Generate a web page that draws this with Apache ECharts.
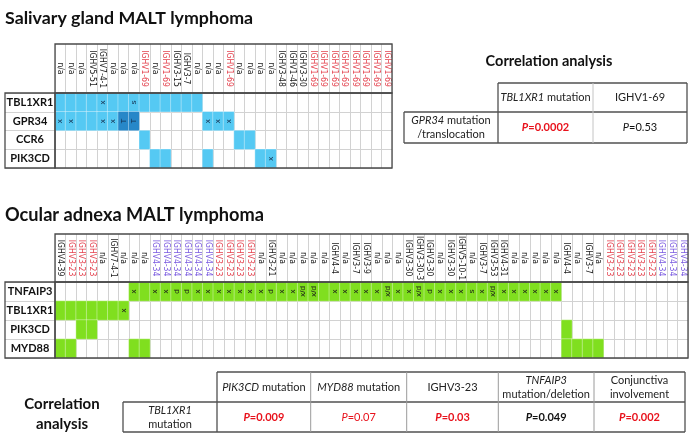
<!DOCTYPE html>
<html>
<head>
<meta charset="utf-8">
<script src="https://cdn.jsdelivr.net/npm/echarts@6/dist/echarts.min.js"></script>
<style>
html,body{margin:0;padding:0;background:#fff;}
#chart{width:693px;height:438px;}
</style>
</head>
<body>
<div id="chart"></div>
<script>
// ---------------- DATA ----------------
const topGenes = ['TBL1XR1', 'GPR34', 'CCR6', 'PIK3CD'];
const topIGHV = ['n/a','n/a','n/a','IGHV5-51','IGHV7-4-1','n/a','n/a','n/a','IGHV1-69','n/a',
  'IGHV1-69','IGHV3-15','IGHV3-7','n/a','n/a','n/a','IGHV1-69','n/a','n/a','n/a',
  'n/a','IGHV3-48','IGHV1-46','IGHV3-30','IGHV1-69','IGHV1-69','IGHV1-69','IGHV1-69','IGHV1-69','IGHV1-69',
  'IGHV1-69','IGHV1-69'];
// '' = wild type, '+' = altered, other = altered with annotation
const topTBL1XR1 = ['+','+','+','+','x','+','+','s','+','+', '+','+','+','+','','','','','','', '','','','','','','','','','', '',''];
const topGPR34   = ['x','x','+','+','x','x','T','T','','', '','','','','x','x','x','','','', '','','','','','','','','','', '',''];
const topCCR6    = ['','','','','','','','','+','', '','','','','','','','+','+','', '','','','','','','','','','', '',''];
const topPIK3CD  = ['','','','','','','','','','+', '+','','','','+','','','','','+', 'x','','','','','','','','','', '',''];

const botGenes = ['TNFAIP3', 'TBL1XR1', 'PIK3CD', 'MYD88'];
const botIGHV = ['IGHV4-39','IGHV3-23','IGHV3-23','IGHV3-23','n/a','IGHV7-4-1','n/a','n/a','n/a','IGHV4-34',
  'IGHV4-34','IGHV4-34','IGHV4-34','IGHV4-34','IGHV4-34','IGHV3-23','IGHV3-23','IGHV3-23','IGHV3-23','n/a',
  'IGHV3-21','n/a','n/a','n/a','n/a','n/a','IGHV4-4','n/a','IGHV3-7','IGHV3-9',
  'n/a','n/a','n/a','IGHV3-30','IGHV3-30-3','IGHV3-30','n/a','IGHV3-30','IGHV5-10-1','n/a',
  'IGHV3-7','IGHV3-53','IGHV4-31','n/a','n/a','n/a','n/a','n/a','IGHV4-4','n/a',
  'IGHV3-7','n/a','IGHV3-23','IGHV3-23','IGHV3-23','IGHV3-23','IGHV3-23','IGHV4-34','IGHV4-34','IGHV4-34'];
const botTNFAIP3 = ['','','','','','','','x','+','x',
  'x','d','d','x','x','x','x','x','x','x',
  'd','x','x','x/d','x/d','+','x','x','x','x',
  'x','x/d','x','x','x/d','d','x','x','x','s',
  'x','x/d','x','x','x','x','x','x','','',
  '','','','','','','','','',''];
const botTBL1XR1 = ['+','+','+','+','+','+','x','','','',
  '','','','','','','','','','',
  '','','','','','','','','','',
  '','','','','','','','','','',
  '','','','','','','','','','',
  '','','','','','','','','',''];
const botPIK3CD = ['','','+','+','','','','','','',
  '','','','','','','','','','',
  '','','','','','','','','','',
  '','','','','','','','','','',
  '','','','','','','','','+','',
  '','','','','','','','','',''];
const botMYD88 = ['+','+','','','','','','+','+','',
  '','','','','','','','','','',
  '','','','','','','','','','',
  '','','','','','','','','','',
  '','','','','','','','','+','+',
  '+','+','','','','','','','',''];

// ---------------- STYLE ----------------
const BLUE = '#55c9f3', BLUE_DARK = '#2787c8', GREEN = '#80df1f';
const RED = '#e4434f', PURPLE = '#7a5ae0';
const DARK = '#4a4a4a', GRIDC = '#d2d2d2';
const NARROW = "'Liberation Sans Narrow','DejaVu Sans Condensed','Liberation Sans',sans-serif";
const LATO = "Lato,'Open Sans',sans-serif";

function labelKey(v) {
  if (v === 'IGHV1-69' || v === 'IGHV3-23') return 'r';
  if (v === 'IGHV4-34') return 'p';
  return 'k';
}

function buildCells(rows, baseColor) {
  const out = [];
  rows.forEach((row, r) => {
    row.forEach((cell, c) => {
      if (cell === '') return;
      out.push({ value: [c, r, 1], itemStyle: { color: cell === 'T' ? BLUE_DARK : baseColor } });
    });
  });
  return out;
}
const topRows = [topTBL1XR1, topGPR34, topCCR6, topPIK3CD];
const botRows = [botTNFAIP3, botTBL1XR1, botPIK3CD, botMYD88];

const richLabels = {
  k: { color: '#1a1a1a', fontFamily: NARROW, fontSize: 8.5 },
  r: { color: RED, fontFamily: NARROW, fontSize: 8.5 },
  p: { color: PURPLE, fontFamily: NARROW, fontSize: 8.5 }
};

function gridBox(left, top, width, height) {
  return { left, top, width, height, show: true, borderColor: DARK, borderWidth: 1.3,
           backgroundColor: 'transparent', z: 3, containLabel: false, outerBoundsMode: 'none' };
}

function headerAxes(gi, cats) {
  return {
    x: { type: 'category', gridIndex: gi, data: cats, axisLabel: { show: false }, axisLine: { show: false },
         axisTick: { show: false }, splitLine: { show: true, interval: 0, lineStyle: { color: GRIDC, width: 1 } } },
    y: { type: 'value', gridIndex: gi, show: false }
  };
}
function bodyAxes(gi, cats, genes, margin) {
  return {
    x: { type: 'category', gridIndex: gi, data: cats, position: 'top',
         axisLine: { show: false }, axisTick: { show: false },
         axisLabel: { interval: 0, rotate: 90, align: 'center', verticalAlign: 'middle', margin: margin,
                      formatter: v => '{' + labelKey(v) + '|' + v + '}', rich: richLabels },
         splitLine: { show: true, interval: 0, lineStyle: { color: GRIDC, width: 1 } } },
    y: { type: 'category', gridIndex: gi, data: genes, inverse: true,
         axisLine: { show: false }, axisTick: { show: false },
         axisLabel: { align: 'center', margin: 25, fontFamily: LATO, fontWeight: 'bold', fontSize: 11, color: '#111' },
         splitLine: { show: true, interval: 0, lineStyle: { color: GRIDC, width: 1 } } }
  };
}
function labelAxes(gi, genes) {
  return {
    x: { type: 'category', gridIndex: gi, data: ['a'], axisLabel: { show: false }, axisLine: { show: false },
         axisTick: { show: false }, splitLine: { show: false } },
    y: { type: 'category', gridIndex: gi, data: genes, inverse: true, axisLabel: { show: false },
         axisLine: { show: false }, axisTick: { show: false },
         splitLine: { show: true, interval: 0, lineStyle: { color: GRIDC, width: 1 } } }
  };
}

const a0 = headerAxes(0, topIGHV), a1 = bodyAxes(1, topIGHV, topGenes, 24.5), a2 = labelAxes(2, topGenes);
const a3 = headerAxes(3, botIGHV), a4 = bodyAxes(4, botIGHV, botGenes, 24), a5 = labelAxes(5, botGenes);

function heat(gi, rows, color, textColor) {
  return {
    type: 'heatmap', xAxisIndex: gi, yAxisIndex: gi, data: buildCells(rows, color),
    itemStyle: { borderColor: 'rgba(255,255,255,0.45)', borderWidth: 0.8 },
    emphasis: { disabled: true },
    label: { show: true, rotate: 90, fontSize: 8, fontFamily: "'Liberation Sans',sans-serif", color: textColor,
             formatter: p => { const m = rows[p.value[1]][p.value[0]]; return m === '+' ? '' : m; } }
  };
}

// ---------------- TABLES (decoration) ----------------
const G = [];
function ln(x1, y1, x2, y2, color, w) {
  G.push({ type: 'line', silent: true, z: 10, shape: { x1, y1, x2, y2 }, style: { stroke: color, lineWidth: w } });
}
function tx(x, y, text, rich, extra) {
  G.push({ type: 'text', silent: true, z: 10, x, y,
    style: Object.assign({ text, rich, fontFamily: LATO, fontSize: 11, fill: '#222',
      align: 'center', verticalAlign: 'middle', textAlign: 'center', textVerticalAlign: 'middle' }, extra || {}) });
}
const R = {
  i: { fontStyle: 'italic', fontFamily: LATO, fontSize: 11, fill: '#222', lineHeight: 14 },
  n: { fontFamily: LATO, fontSize: 11, fill: '#222', lineHeight: 14 },
  ri: { fontStyle: 'italic', fontWeight: 'bold', fontFamily: LATO, fontSize: 11, fill: '#e8121c' },
  rb: { fontWeight: 'bold', fontFamily: LATO, fontSize: 11, fill: '#e8121c' },
  rli: { fontStyle: 'italic', fontFamily: LATO, fontSize: 11, fill: '#e8121c' },
  rl: { fontFamily: LATO, fontSize: 11, fill: '#e8121c' },
  ki: { fontStyle: 'italic', fontFamily: LATO, fontSize: 11, fill: '#111' },
  kbi: { fontStyle: 'italic', fontWeight: 'bold', fontFamily: LATO, fontSize: 11, fill: '#111' },
  kb: { fontWeight: 'bold', fontFamily: LATO, fontSize: 11, fill: '#111' },
  k: { fontFamily: LATO, fontSize: 11, fill: '#111' }
};

// titles
G.push({ type: 'text', silent: true, x: 5, y: 18, style: { text: 'Salivary gland MALT lymphoma', fontFamily: LATO,
  fontWeight: 'bold', fontSize: 17.8, fill: '#111', align: 'left', verticalAlign: 'middle', textVerticalAlign: 'middle' } });
G.push({ type: 'text', silent: true, x: 5, y: 215, style: { text: 'Ocular adnexa MALT lymphoma', fontFamily: LATO,
  fontWeight: 'bold', fontSize: 18.2, fill: '#111', align: 'left', verticalAlign: 'middle', textVerticalAlign: 'middle' } });
tx(549, 61, 'Correlation analysis', null, { fontWeight: 'bold', fontSize: 14.5, fill: '#111' });
tx(62, 414, 'Correlation\nanalysis', null, { fontWeight: 'bold', fontSize: 15, fill: '#111', lineHeight: 20 });

// top table
const TDK = '#505050', TLT = '#c4c4c4';
ln(498, 83, 687, 83, TDK, 1.3);
ln(687, 83, 687, 143, TDK, 1.3);
ln(498, 83, 498, 143, TDK, 1.3);
ln(404, 112, 404, 143, TDK, 1.3);
ln(404, 112, 687, 112, TDK, 1.3);
ln(404, 143, 687, 143, TDK, 1.3);
ln(593, 83, 593, 143, TLT, 1);
tx(545.5, 97.5, '{i|TBL1XR1}{n| mutation}', R);
tx(640, 97.5, '{n|IGHV1-69}', R);
tx(451, 127.5, '{i|GPR34}{n| mutation}\n{n|/translocation}', R);
tx(545.5, 127.5, '{ri|P}{rb|=0.0002}', R);
tx(640, 127.5, '{ki|P}{k|=0.53}', R);

// bottom table
const bx = [123, 217, 310.7, 406.7, 498.3, 594, 685];
ln(217, 372, 685, 372, TDK, 1.3);
ln(685, 372, 685, 432, TDK, 1.3);
ln(217, 372, 217, 432, TDK, 1.3);
ln(123, 402, 685, 402, TDK, 1.3);
ln(123, 402, 123, 432, TDK, 1.3);
ln(123, 432, 685, 432, TDK, 1.3);
[2, 3, 4, 5].forEach(i => ln(bx[i], 372, bx[i], 432, '#9a9a9a', 1));
const hy = 387, by = 417;
const mid = i => (bx[i] + bx[i + 1]) / 2;
tx(mid(1), hy, '{i|PIK3CD}{n| mutation}', R);
tx(mid(2), hy, '{i|MYD88}{n| mutation}', R);
tx(mid(3), hy, '{n|IGHV3-23}', R);
tx(mid(4), hy, '{i|TNFAIP3}\n{n|mutation/deletion}', R);
tx(mid(5), hy, '{n|Conjunctiva}\n{n|involvement}', R);
tx(mid(0), by, '{i|TBL1XR1}\n{n|mutation}', R);
tx(mid(1), by, '{ri|P}{rb|=0.009}', R);
tx(mid(2), by, '{rli|P}{rl|=0.07}', R);
tx(mid(3), by, '{ri|P}{rb|=0.03}', R);
tx(mid(4), by, '{kbi|P}{kb|=0.049}', R);
tx(mid(5), by, '{ri|P}{rb|=0.002}', R);

const option = {
  animation: false,
  backgroundColor: '#ffffff',
  grid: [
    gridBox(55, 44, 337, 49), gridBox(55, 93, 337, 75), gridBox(5, 93, 50, 75),
    gridBox(55, 234, 633, 48), gridBox(55, 282, 633, 76), gridBox(5, 282, 50, 76)
  ],
  xAxis: [a0.x, a1.x, a2.x, a3.x, a4.x, a5.x],
  yAxis: [a0.y, a1.y, a2.y, a3.y, a4.y, a5.y],
  series: [heat(1, topRows, BLUE, '#16304f'), heat(4, botRows, GREEN, '#1a1a1a')],
  graphic: G
};

const chart = echarts.init(document.getElementById('chart'), null, { renderer: 'canvas' });
chart.setOption(option);
</script>
</body>
</html>
